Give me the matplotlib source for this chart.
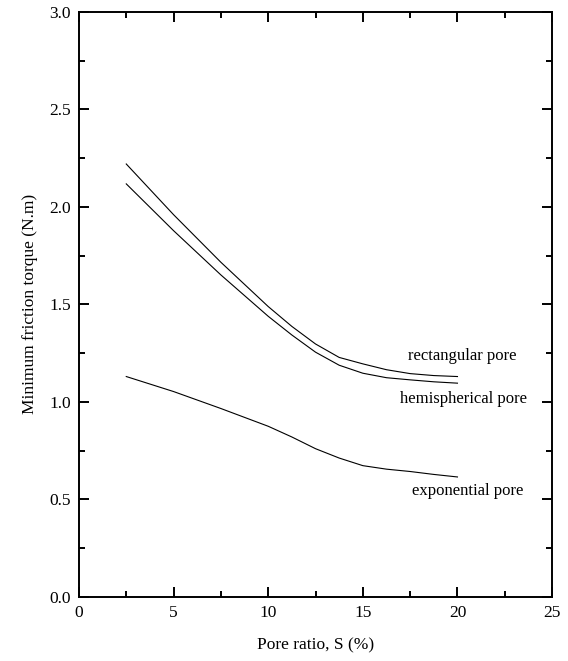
import numpy as np
import matplotlib
matplotlib.use("Agg")
import matplotlib.pyplot as plt
from matplotlib.ticker import MultipleLocator

plt.rcParams['font.family'] = ['Liberation Serif', 'DejaVu Serif']

# pore ratio (%) and minimum friction torque (N.m)
S = [2.5, 5.0, 7.5, 10.0, 11.25, 12.5, 13.75, 15.0, 16.25, 17.5, 18.75, 20.0]
rect = [2.22, 1.96, 1.716, 1.489, 1.387, 1.297, 1.228, 1.195, 1.165, 1.145, 1.135, 1.13]
hemi = [2.118, 1.878, 1.651, 1.439, 1.343, 1.255, 1.188, 1.147, 1.124, 1.113, 1.103, 1.096]
expo = [1.13, 1.053, 0.966, 0.875, 0.82, 0.76, 0.712, 0.673, 0.655, 0.643, 0.628, 0.615]

labels = ["rectangular pore", "hemispherical pore", "exponential pore"]
label_pos = [(20.25, 1.236), (20.3, 1.015), (20.55, 0.544)]

fig = plt.figure(figsize=(5.68, 6.61), dpi=100)
ax = fig.add_axes([0.139, 0.097, 0.833, 0.885])

for ys in (rect, hemi, expo):
    ax.plot(S, ys, color='black', lw=0.8)

for txt, (x, y) in zip(labels, label_pos):
    ax.text(x, y, txt, ha='center', va='center', fontsize=12)

ax.set_xlim(0, 25)
ax.set_ylim(0, 3.0)
ax.xaxis.set_major_locator(MultipleLocator(5))
ax.xaxis.set_minor_locator(MultipleLocator(2.5))
ax.yaxis.set_major_locator(MultipleLocator(0.5))
ax.yaxis.set_minor_locator(MultipleLocator(0.25))
ax.yaxis.set_major_formatter(matplotlib.ticker.FormatStrFormatter('%.1f'))

ax.tick_params(which='both', direction='in', top=True, right=True,
               labelsize=12.5, width=1.4, pad=6)
ax.tick_params(which='major', length=7)
ax.tick_params(which='minor', length=4.5)
for sp in ax.spines.values():
    sp.set_linewidth(1.4)

ax.set_xlabel("Pore ratio, S (%)", fontsize=12.5, labelpad=12)
ax.set_ylabel("Minimum friction torque (N.m)", fontsize=12.5, labelpad=8)

fig.savefig("out.png", dpi=100)
